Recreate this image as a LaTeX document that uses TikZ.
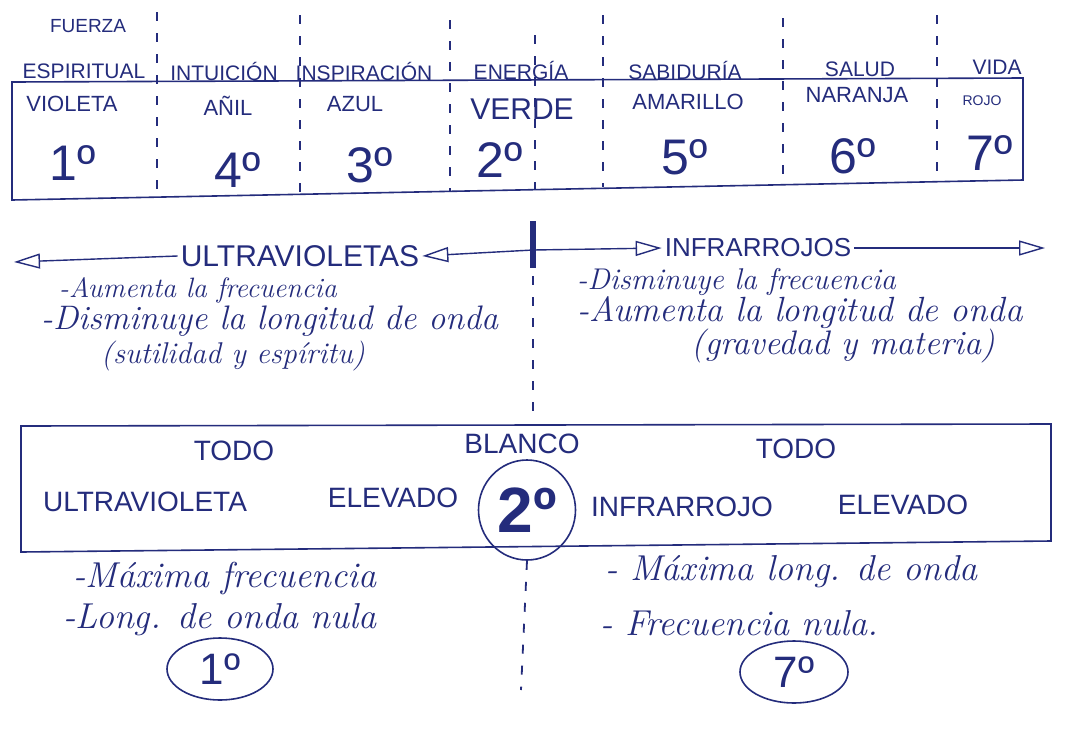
\documentclass[tikz,border=0pt]{standalone}
\usepackage{fontspec}
\newfontfamily\mayus{Liberation Sans}
\usetikzlibrary{arrows.meta,shapes.geometric}
\definecolor{tinta}{RGB}{36,44,124}

\tikzset{
  trazo/.style={tinta, line width=1.6pt},
  sep/.style={tinta, line width=1.8pt, dash pattern=on 9pt off 12pt},
  flecha/.style={tinta, line width=1.4pt, -{Triangle[open,length=26pt,width=15pt]}},
  rotulo/.style={text=tinta, inner sep=1pt, font=\mayus\fontsize{21}{24}\selectfont},
  nombre/.style={text=tinta, inner sep=1pt, font=\mayus\fontsize{22}{24}\selectfont},
  grado/.style={text=tinta, inner sep=1pt, font=\mayus\fontsize{50}{50}\selectfont},
  nota/.style={text=tinta, inner sep=1pt, anchor=west, font=\itshape\fontsize{30}{32}\selectfont},
  notab/.style={nota, font=\itshape\fontsize{36}{38}\selectfont},
  grande/.style={text=tinta, inner sep=1pt, font=\mayus\fontsize{28}{30}\selectfont},
  circulo/.style={draw=tinta, line width=1.6pt, ellipse, inner sep=0pt},
}

\begin{document}
\begin{tikzpicture}[x=1pt,y=-1pt]
\useasboundingbox[fill=white] (0,0) rectangle (1066,729);

% tabla de colores
\draw[trazo] (12,82) -- (1023,78) -- (1023,180) -- (12,200) -- cycle;
\foreach \x/\ya/\yb in {157/12/197, 300/15/194, 450/20/191, 535/35/189, 603/15/187, 783/18/183, 937/15/180}
  \draw[sep] (\x,\ya) -- (\x,\yb);

\node[rotulo, font=\mayus\fontsize{19}{22}\selectfont] (fuerza) at (88,26) {FUERZA};
\node[rotulo] (espiritual) at (84,71) {ESPIRITUAL};
\node[rotulo] (intuicion) at (224,71) {INTUICIÓN};
\node[rotulo] (inspiracion) at (364,71) {INSPIRACIÓN};
\node[rotulo] (energia) at (521,70) {ENERGÍA};
\node[rotulo] (sabiduria) at (685,70) {SABIDURÍA};
\node[rotulo] (salud) at (860,69) {SALUD};
\node[rotulo] (vida) at (997,67) {VIDA};

\node[nombre] (violeta) at (72,104) {VIOLETA};
\node[nombre] (anil) at (228,106) {AÑIL};
\node[nombre] (azul) at (355,104) {AZUL};
\node[nombre, font=\mayus\fontsize{30}{32}\selectfont] (verde) at (522,109) {VERDE};
\node[nombre] (amarillo) at (688,102) {AMARILLO};
\node[nombre] (naranja) at (857,95) {NARANJA};
\node[nombre, font=\mayus\fontsize{14}{16}\selectfont] (rojo) at (982,101) {ROJO};

\node[grado] (g1) at (73,163) {1º};
\node[grado] (g4) at (238,170) {4º};
\node[grado] (g3) at (370,165) {3º};
\node[grado] (g2) at (500,160) {2º};
\node[grado] (g5) at (685,157) {5º};
\node[grado] (g6) at (853,156) {6º};
\node[grado] (g7) at (990,153) {7º};

% flechas
\coordinate (eje) at (533,250);
\draw[tinta, line width=6pt] (533,221) -- (533,268);
\node[grande, inner sep=3pt, font=\mayus\fontsize{30}{32}\selectfont] (uv) at (300,256) {ULTRAVIOLETAS};
\node[grande, inner sep=3pt, font=\mayus\fontsize{26}{28}\selectfont] (ir) at (758,248) {INFRARROJOS};
\coordinate (uvfin) at (14,262);
\coordinate (irfin) at (1045,248);
\draw[flecha] (eje) -- (uv.east);
\draw[flecha] (uv.west) -- (uvfin);
\draw[flecha] (eje) -- (ir.west);
\draw[flecha] (ir.east) -- (irfin);

\node[nota, font=\itshape\fontsize{28}{30}\selectfont] (n1) at (58,290) {-Aumenta la frecuencia};
\node[nota, font=\itshape\fontsize{34}{36}\selectfont] (n2) at (40,321) {-Disminuye la longitud de onda};
\node[nota] (n3) at (100,356) {(sutilidad y espíritu)};
\node[nota] (n4) at (576,282) {-Disminuye la frecuencia};
\node[nota, font=\itshape\fontsize{35}{37}\selectfont] (n5) at (576,313) {-Aumenta la longitud de onda};
\node[nota, font=\itshape\fontsize{34}{36}\selectfont] (n6) at (690,346) {(gravedad y materia)};
\draw[sep] (533,276) -- (533,422);

% blanco
\draw[trazo] (21,426) -- (1051,424) -- (1051,541) -- (21,552) -- cycle;
\node[grande] (todo1) at (234,451) {TODO};
\node[grande] (blanco) at (522,444) {BLANCO};
\node[grande] (todo2) at (796,449) {TODO};
\node[grande] (ultra) at (145,502) {ULTRAVIOLETA};
\node[grande] (elev1) at (393,498) {ELEVADO};
\node[grande] (infra) at (682,507) {INFRARROJO};
\node[grande] (elev2) at (903,505) {ELEVADO};
\node[circulo, minimum width=97pt, minimum height=100pt, text=tinta,
  font=\mayus\bfseries\fontsize{64}{64}\selectfont] (dos) at (527,510) {2º};

\node[notab] (n7) at (72,578) {-Máxima frecuencia};
\node[notab] (n8) at (62,620) {-Long. de onda nula};
\node[notab] (n9) at (604,572) {- Máxima long. de onda};
\node[notab] (n10) at (599,623) {- Frecuencia nula.};
\node[circulo, minimum width=106pt, minimum height=62pt, text=tinta,
  font=\mayus\fontsize{44}{44}\selectfont] (uno) at (220,669) {1º};
\node[circulo, minimum width=108pt, minimum height=62pt, text=tinta,
  font=\mayus\fontsize{44}{44}\selectfont] (siete) at (794,672) {7º};
\coordinate (pie) at (521,690);
\draw[sep] (dos.south) -- (pie);
\end{tikzpicture}
\end{document}
